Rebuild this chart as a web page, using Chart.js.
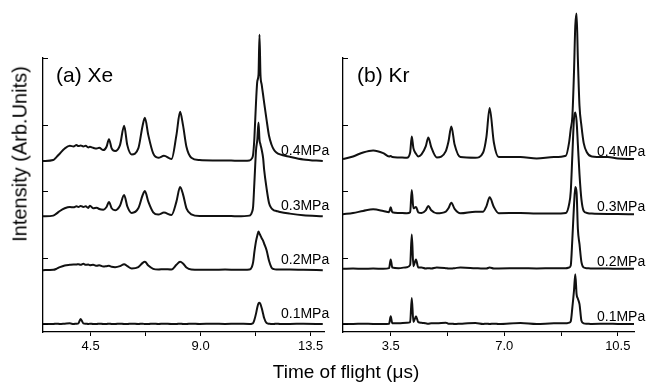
<!DOCTYPE html>
<html>
<head>
<meta charset="utf-8">
<script src="https://cdn.jsdelivr.net/npm/chart.js@4.4.1/dist/chart.umd.min.js"></script>
<style>
  body { margin: 0; background: #fff; }
  #wrap { position: relative; width: 654px; height: 383px; overflow: hidden; background: #fff;
          font-family: "Liberation Sans", Arial, sans-serif; color: #000; }
  #xe-chart { position: absolute; left: 0; top: 0; }
  #kr-chart { position: absolute; left: 330px; top: 0; }
  #y-title { position: absolute; left: 20px; top: 154px; transform: translate(-50%, -50%) rotate(-90deg);
             font-size: 20px; white-space: nowrap; }
  #x-title { position: absolute; left: 346px; top: 372px; transform: translate(-50%, -50%);
             font-size: 19px; white-space: nowrap; }
</style>
</head>
<body>
<div id="wrap">
  <canvas id="xe-chart" width="340" height="383"></canvas>
  <canvas id="kr-chart" width="324" height="383"></canvas>
  <div id="y-title">Intensity (Arb.Units)</div>
  <div id="x-title">Time of flight (&mu;s)</div>
</div>
<script>
// Pressure labels (bottom trace first)
const pressures = ['0.1MPa', '0.2MPa', '0.3MPa', '0.4MPa'];

// (a) Xe - time of flight (us) and intensity above each trace's baseline
const xeTime = [
  2.55, 2.97, 3.1, 3.24, 3.44, 3.65, 3.8, 3.92, 4.0, 4.09,
  4.2, 4.3, 4.4, 4.47, 4.6, 4.75, 4.85, 5.02, 5.15, 5.25,
  5.36, 5.5, 5.7, 5.87, 6.0, 6.18, 6.45, 6.63, 6.72, 6.86,
  7.06, 7.27, 7.5, 7.81, 8.01, 8.16, 8.28, 8.42, 8.62, 8.96,
  9.5, 10.0, 10.5, 11.0, 11.1, 11.15, 11.2, 11.27, 11.32, 11.37,
  11.41, 11.45, 11.5, 11.56, 11.6, 11.7, 11.8, 11.9, 12.0, 12.1,
  12.25, 12.65, 13.2, 14.0
];
const xe01 = [
  0, 0, 0.005, 0, 0.005, 0.01, 0, 0.005, 0.01, 0.075,
  0.01, 0.005, 0, 0.005, 0, 0, 0.005, 0, 0, 0.005,
  0, 0, 0.005, 0, 0, 0.005, 0, 0.005, 0, 0,
  0.005, 0, 0.005, 0, 0, 0.005, 0, 0, 0.005, 0,
  0.005, 0, 0.005, 0, 0.005, 0.015, 0.06, 0.16, 0.25, 0.31,
  0.32, 0.3, 0.24, 0.15, 0.09, 0.015, 0.005, 0, 0, 0.005,
  0, 0, 0.005, 0
];
const xe02 = [
  0, 0.005, 0.02, 0.045, 0.07, 0.08, 0.085, 0.085, 0.09, 0.08,
  0.095, 0.08, 0.085, 0.075, 0.08, 0.065, 0.075, 0.055, 0.06, 0.065,
  0.05, 0.045, 0.06, 0.09, 0.06, 0.025, 0.045, 0.11, 0.125, 0.07,
  0.02, 0.01, 0.015, 0.01, 0.08, 0.125, 0.1, 0.04, 0.01, 0.005,
  0.005, 0.01, 0.005, 0.01, 0.05, 0.12, 0.27, 0.44, 0.52, 0.58,
  0.55, 0.52, 0.48, 0.44, 0.4, 0.3, 0.14, 0.04, 0.015, 0.01,
  0.01, 0.01, 0.005, 0
];
const xe03 = [
  0, 0.01, 0.04, 0.08, 0.12, 0.14, 0.135, 0.15, 0.14, 0.155,
  0.14, 0.15, 0.125, 0.16, 0.12, 0.13, 0.11, 0.1, 0.14, 0.215,
  0.12, 0.09, 0.16, 0.32, 0.15, 0.05, 0.12, 0.32, 0.38, 0.22,
  0.06, 0.025, 0.055, 0.02, 0.22, 0.44, 0.33, 0.12, 0.03, 0.005,
  0.005, 0.005, 0, 0.01, 0.06, 0.15, 0.5, 1.0, 1.15, 1.41,
  1.15, 1.08, 1.0, 0.87, 0.7, 0.42, 0.2, 0.12, 0.09, 0.08,
  0.065, 0.04, 0.015, 0
];
const xe04 = [
  0, 0.015, 0.06, 0.115, 0.19, 0.23, 0.22, 0.24, 0.225, 0.235,
  0.22, 0.23, 0.205, 0.215, 0.2, 0.19, 0.2, 0.165, 0.215, 0.33,
  0.19, 0.15, 0.24, 0.53, 0.24, 0.1, 0.19, 0.54, 0.65, 0.39,
  0.115, 0.05, 0.08, 0.03, 0.39, 0.74, 0.54, 0.215, 0.05, 0.015,
  0.01, 0.01, 0.005, 0.01, 0.04, 0.1, 0.34, 0.9, 1.2, 1.3,
  1.9, 1.3, 1.15, 0.99, 0.88, 0.62, 0.38, 0.25, 0.17, 0.13,
  0.1, 0.065, 0.025, 0
];
const xeOffsets = [0, 0.81, 1.62, 2.45];
const xeTicks = [4.5, 9.0, 13.5];

// (b) Kr
const krTime = [
  2.03, 2.34, 2.65, 2.96, 3.27, 3.45, 3.5, 3.55, 3.74, 4.0,
  4.1, 4.15, 4.2, 4.28, 4.35, 4.45, 4.58, 4.66, 4.75, 4.92,
  5.2, 5.28, 5.37, 5.47, 5.65, 6.11, 6.35, 6.45, 6.55, 6.68,
  6.83, 7.5, 8.0, 8.53, 8.9, 9.0, 9.05, 9.1, 9.15, 9.19,
  9.23, 9.27, 9.32, 9.38, 9.45, 9.55, 9.7, 10.19, 10.5, 11.0
];
const kr01 = [
  0, 0, 0.005, 0, 0, 0.005, 0.115, 0.01, 0.01, 0.02,
  0.03, 0.39, 0.03, 0.115, 0.03, 0.02, 0.01, 0.005, 0.01, 0.01,
  0.02, 0.005, 0.005, 0, 0.005, 0.015, 0, 0.005, 0, 0.005,
  0, 0.015, 0, 0.01, 0.01, 0.02, 0.04, 0.25, 0.5, 0.75,
  0.45, 0.38, 0.3, 0.05, 0.01, 0.005, 0, 0.005, 0, 0
];
const kr02 = [
  0, 0.005, 0, 0.005, 0, 0.01, 0.14, 0.02, 0.01, 0.025,
  0.06, 0.515, 0.04, 0.14, 0.02, 0.02, 0.005, 0.01, 0.005, 0.02,
  0.01, 0.005, 0.005, 0.01, 0.02, 0.01, 0.005, 0.005, 0.02, 0.005,
  0.005, 0.01, 0.005, 0.01, 0.01, 0.02, 0.05, 0.45, 0.95, 1.23,
  1.15, 0.6, 0.37, 0.1, 0.02, 0.01, 0.005, 0.005, 0, 0
];
const kr03 = [
  0, 0.02, 0.05, 0.075, 0.05, 0.03, 0.105, 0.03, 0.02, 0.015,
  0.03, 0.365, 0.09, 0.11, 0.03, 0.02, 0.06, 0.125, 0.06, 0.015,
  0.04, 0.09, 0.175, 0.08, 0.015, 0.04, 0.04, 0.12, 0.255, 0.11,
  0.015, 0.02, 0.01, 0.01, 0.02, 0.15, 0.34, 0.89, 1.44, 1.53,
  1.4, 1.05, 0.6, 0.22, 0.05, 0.02, 0.01, 0.005, 0.005, 0
];
const kr04 = [
  0, 0.04, 0.1, 0.13, 0.09, 0.04, 0.045, 0.03, 0.025, 0.02,
  0.1, 0.34, 0.165, 0.08, 0.04, 0.07, 0.19, 0.325, 0.18, 0.025,
  0.12, 0.26, 0.49, 0.22, 0.03, 0.02, 0.1, 0.33, 0.77, 0.25,
  0.03, 0.03, 0.01, 0.03, 0.05, 0.25, 0.45, 0.64, 1.3, 2.0,
  2.19, 1.5, 0.8, 0.5, 0.24, 0.1, 0.04, 0.03, 0.01, 0
];
const krOffsets = [0, 0.83, 1.65, 2.48];
const krTicks = [3.5, 7.0, 10.5];

const FONT = '"Liberation Sans", Arial, sans-serif';

// draws the inward y ticks, the panel name and the pressure labels
const panelText = {
  id: 'panelText',
  afterDraw(chart, args, opts) {
    const { ctx, chartArea, scales } = chart;
    const y = scales.y;
    ctx.save();
    ctx.strokeStyle = '#000';
    ctx.lineWidth = 1;
    y.ticks.forEach(t => {
      const py = Math.round(y.getPixelForValue(t.value)) + 0.5;
      ctx.beginPath();
      ctx.moveTo(chartArea.left, py);
      ctx.lineTo(chartArea.left + 5, py);
      ctx.stroke();
    });
    ctx.fillStyle = '#000';
    ctx.textBaseline = 'alphabetic';
    ctx.font = '21px ' + FONT;
    ctx.fillText(opts.name, chartArea.left + opts.nameDx, chartArea.top + 24);
    ctx.font = '14px ' + FONT;
    pressures.forEach((p, i) => {
      ctx.fillText(p, chartArea.right - opts.labelDx, y.getPixelForValue(opts.offsets[i]) - opts.labelDy);
    });
    ctx.restore();
  }
};

function makePanel(canvasId, time, series, offsets, xMin, xMax, step, majors, name, axisWidth, padRight, nameDx, labelDx, labelDy) {
  const datasets = series.map((vals, i) => ({
    label: pressures[i],
    data: time.map((t, k) => ({ x: t, y: vals[k] + offsets[i] })),
    borderColor: '#111',
    borderWidth: 2,
    pointRadius: 0,
    cubicInterpolationMode: 'monotone',
    clip: false
  }));

  return new Chart(document.getElementById(canvasId), {
    type: 'line',
    data: { datasets: datasets },
    plugins: [panelText],
    options: {
      responsive: false,
      animation: false,
      layout: { padding: { top: 58, right: padRight, bottom: 0, left: 0 } },
      plugins: {
        legend: { display: false },
        tooltip: { enabled: false },
        panelText: { name: name, nameDx: nameDx, offsets: offsets, labelDx: labelDx, labelDy: labelDy }
      },
      scales: {
        x: {
          type: 'linear',
          min: xMin,
          max: xMax,
          afterFit: (axis) => { axis.height = 51; },
          border: { display: true, color: '#000', width: 1.3 },
          grid: { display: true, drawOnChartArea: false, drawTicks: true, tickLength: 4, color: '#000' },
          ticks: {
            stepSize: step,
            includeBounds: false,
            autoSkip: false,
            maxRotation: 0,
            padding: 3,
            color: '#000',
            font: { family: FONT, size: 13 },
            callback: (v) => majors.some(m => Math.abs(m - v) < 1e-6) ? v.toFixed(1) : ''
          }
        },
        y: {
          type: 'linear',
          min: -0.12,
          max: 4,
          afterFit: (axis) => { axis.width = axisWidth; },
          border: { display: true, color: '#000', width: 1.3 },
          grid: { display: false },
          ticks: { stepSize: 1, includeBounds: false, display: false }
        }
      }
    }
  });
}

makePanel('xe-chart', xeTime, [xe01, xe02, xe03, xe04], xeOffsets, 2.55, 14.05, 2.25, xeTicks,
  '(a) Xe', 43, 16, 13, 43, 6);
makePanel('kr-chart', krTime, [kr01, kr02, kr03, kr04], krOffsets, 2.03, 11.0, 1.75, krTicks,
  '(b) Kr', 13, 20, 14, 37, 3);
</script>
</body>
</html>
